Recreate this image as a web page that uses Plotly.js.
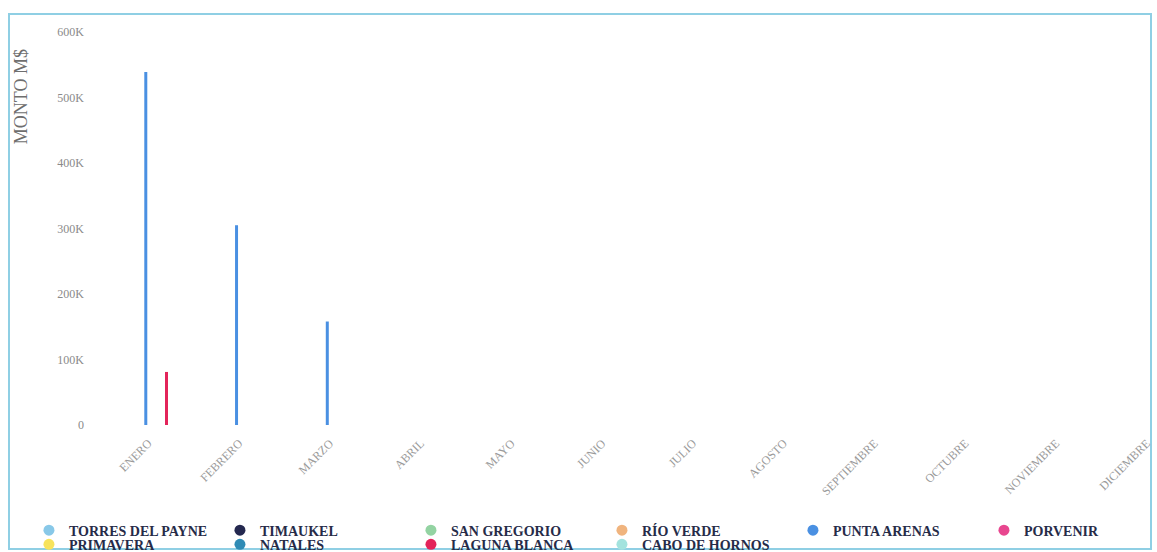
<!DOCTYPE html>
<html>
<head>
<meta charset="utf-8">
<script src="https://cdn.plot.ly/plotly-3.0.1.min.js"></script>
<style>
html, body { margin:0; padding:0; background:#ffffff; overflow:hidden; width:1157px; height:552px; }
#frame { position:absolute; left:8px; top:13px; width:1140px; height:533px; border:2px solid #8fcfe4; }
#chart { position:absolute; left:0; top:0; width:1200px; height:552px; }
</style>
</head>
<body>
<div id="frame"></div>
<div id="chart"></div>
<script>
// ---- data ----
const months = ['ENERO','FEBRERO','MARZO','ABRIL','MAYO','JUNIO','JULIO','AGOSTO','SEPTIEMBRE','OCTUBRE','NOVIEMBRE','DICIEMBRE'];

const torresDelPayne = [0,0,0,0,0,0,0,0,0,0,0,0];
const timaukel       = [0,0,0,0,0,0,0,0,0,0,0,0];
const sanGregorio    = [0,0,0,0,0,0,0,0,0,0,0,0];
const rioVerde       = [0,0,0,0,0,0,0,0,0,0,0,0];
const puntaArenas    = [539000,305000,158000,0,0,0,0,0,0,0,0,0];
const porvenir       = [0,0,0,0,0,0,0,0,0,0,0,0];
const primavera      = [0,0,0,0,0,0,0,0,0,0,0,0];
const natales        = [0,0,0,0,0,0,0,0,0,0,0,0];
const lagunaBlanca   = [81000,0,0,0,0,0,0,0,0,0,0,0];
const caboDeHornos   = [0,0,0,0,0,0,0,0,0,0,0,0];

const seriesNames  = ['TORRES DEL PAYNE','TIMAUKEL','SAN GREGORIO','RÍO VERDE','PUNTA ARENAS','PORVENIR','PRIMAVERA','NATALES','LAGUNA BLANCA','CABO DE HORNOS'];
const seriesValues = [torresDelPayne, timaukel, sanGregorio, rioVerde, puntaArenas, porvenir, primavera, natales, lagunaBlanca, caboDeHornos];

const yTickValues = [0,100000,200000,300000,400000,500000,600000];
const yTickLabels = ['0','100K','200K','300K','400K','500K','600K'];
const yTitle = 'MONTO M$';

// ---- styles ----
const colors = ['#88c8e8','#24284f','#93d3a2','#f0b47e','#4a90e2','#e8468f','#f7e35c','#2f8bb5','#e3245a','#a3e3de'];
const legendRow = [1,1,1,1,1,1,2,2,2,2];
const serif = 'Liberation Serif, Times New Roman, serif';

const traces = [];
seriesNames.forEach((name, i) => {
  traces.push({
    type: 'bar', name: name, x: months, y: seriesValues[i],
    marker: { color: colors[i], line: { width: 0 } },
    legendgroup: name, showlegend: false, hoverinfo: 'x+y+name'
  });
});
seriesNames.forEach((name, i) => {
  traces.push({
    type: 'scatter', mode: 'markers', name: name, x: [null], y: [null],
    marker: { color: colors[i], size: 11, symbol: 'circle' },
    legendgroup: name, showlegend: true,
    legend: legendRow[i] === 1 ? 'legend' : 'legend2'
  });
});

const legendBase = {
  orientation: 'h', xanchor: 'left', yanchor: 'top',
  bgcolor: 'rgba(0,0,0,0)', borderwidth: 0,
  entrywidth: 146, entrywidthmode: 'pixels',
  font: { family: serif, size: 14, color: '#262b48', weight: 'bold' }
};

const layout = {
  width: 1200, height: 552,
  margin: { l: 103, r: 8, t: 32, b: 127, autoexpand: false },
  paper_bgcolor: 'rgba(0,0,0,0)', plot_bgcolor: 'rgba(0,0,0,0)',
  barmode: 'group', bargap: 0.43, bargroupgap: 0.42,
  font: { family: serif, color: '#888' },
  xaxis: {
    type: 'category', tickangle: -45, showgrid: false, zeroline: false, showline: false,
    ticklabelstandoff: 8, automargin: false,
    tickfont: { family: serif, size: 12, color: '#9a9a9a' }
  },
  yaxis: {
    range: [0, 600000], tickvals: yTickValues, ticktext: yTickLabels,
    showgrid: false, zeroline: false, showline: false, ticklabelstandoff: 18, automargin: false,
    tickfont: { family: serif, size: 12, color: '#8a8a8a' }
  },
  legend: Object.assign({}, legendBase, { x: -0.068, y: -0.228 }),
  legend2: Object.assign({}, legendBase, { x: -0.068, y: -0.264 }),
  annotations: [{
    text: yTitle, textangle: -90, xref: 'paper', yref: 'paper',
    x: 0, xshift: -82, xanchor: 'center', y: 0.834, yanchor: 'middle',
    showarrow: false, font: { family: serif, size: 18, color: '#6e6e6e' }
  }]
};

Plotly.newPlot('chart', traces, layout, { displayModeBar: false, staticPlot: false });
</script>
</body>
</html>
